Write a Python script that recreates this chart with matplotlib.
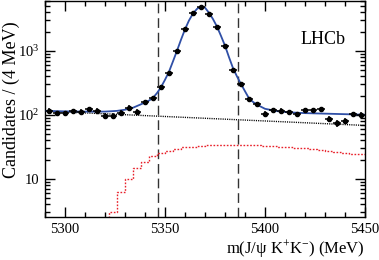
import numpy as np
import matplotlib
matplotlib.use('Agg')
import matplotlib.pyplot as plt
from matplotlib.ticker import FixedLocator, LogLocator, NullFormatter, MultipleLocator

plt.rcParams['font.family'] = ['Liberation Serif', 'DejaVu Serif']
plt.rcParams['mathtext.fontset'] = 'custom'
plt.rcParams['mathtext.rm'] = 'Liberation Serif'
plt.rcParams['mathtext.it'] = 'Liberation Serif:italic'

# Data points (4 MeV bins, centres)
bin_centres = [5292, 5296, 5300, 5304, 5308, 5312, 5316, 5320, 5324, 5328,
               5332, 5336, 5340, 5344, 5348, 5352, 5356, 5360, 5364, 5368,
               5372, 5376, 5380, 5384, 5388, 5392, 5396, 5400, 5404, 5408,
               5412, 5416, 5420, 5424, 5428, 5432, 5436, 5440, 5444, 5448]
counts = [117, 106, 106, 114, 113, 122, 117, 97, 97, 108,
          130, 113, 160, 184, 277, 458, 1010, 2230, 3880, 4820,
          3830, 2400, 1210, 505, 305, 178, 148, 104, 120, 116,
          110, 103, 120, 120, 123, 86, 74, 82, 103, 101]

# Total fit curve
fit_x = [5290, 5300, 5310, 5320, 5326, 5330, 5334, 5338, 5342, 5344,
         5346, 5348, 5350, 5352, 5354, 5356, 5358, 5360, 5362, 5364,
         5366, 5368, 5370, 5372, 5374, 5376, 5378, 5380, 5382, 5384,
         5386, 5388, 5390, 5392, 5394, 5396, 5400, 5406, 5412, 5420,
         5430, 5440, 5450]
fit_y = [116, 114, 113, 113, 116, 121, 130, 147, 168, 186,
         220, 272, 355, 475, 690, 1010, 1500, 2180, 3000, 3850,
         4550, 4950, 4750, 3950, 3150, 2400, 1720, 1210, 800, 540,
         400, 305, 235, 182, 160, 145, 125, 115, 110, 107,
         105, 103, 101]

# Combinatorial background (straight line in log scale)
bkg_x = [5290, 5450]
bkg_y = [115, 68.7]

# Peaking background histogram (red dotted), bin edges from 5318
red_edges = np.arange(5318, 5451, 4)
red_vals = [1.0, 3.1, 6.2, 10, 14.7, 18.6, 22.9, 25.8, 27.7, 29.1, 31.3,
            32, 33, 33.5, 34, 34, 34, 34, 33.5, 33.5, 33, 32.5, 32, 31.5,
            30.5, 30, 29, 28, 27.5, 26.5, 25.5, 25, 24.5]

# Signal window
window = [5346.6, 5386.6]

fig = plt.figure(figsize=(3.79, 2.60), dpi=100)
ax = fig.add_axes([45 / 379, 43 / 260, 320 / 379, 216 / 260])
ax.set_yscale('log')

# red histogram
ax.step(red_edges, red_vals + [red_vals[-1]], where='post', color='#e8202a',
        ls=(0, (1.2, 1.2)), lw=1.0, zorder=2)
# background
ax.plot(bkg_x, bkg_y, color='black', ls=(0, (0.8, 0.8)), lw=1.0, zorder=2)
# total fit
ax.plot(fit_x, fit_y, color='#2f4fa6', lw=1.3, zorder=3)
# data
counts = np.array(counts, dtype=float)
ax.errorbar(bin_centres, counts, xerr=2, yerr=np.sqrt(counts), fmt='o',
            color='black', ms=3.0, elinewidth=1.1, capsize=0, zorder=4)

for w in window:
    ax.axvline(w, color='#333333', lw=1.0, ls=(0, (7, 3.5)), zorder=1)

ax.set_xlim(5290, 5450)
ax.set_ylim(2.55, 6040)

ax.xaxis.set_major_locator(FixedLocator([5300, 5350, 5400, 5450]))
ax.xaxis.set_minor_locator(MultipleLocator(10))
ax.yaxis.set_major_locator(FixedLocator([10, 100, 1000]))
ax.yaxis.set_minor_locator(LogLocator(base=10, subs=np.arange(2, 10)))
ax.yaxis.set_minor_formatter(NullFormatter())
ax.set_yticklabels(['10', '10$^{2}$', '10$^{3}$'])
ax.set_xticklabels(['5300', '5350', '5400', '5450'])

ax.tick_params(which='both', direction='in', top=True, right=True,
               labelsize=10.5, width=1.0, pad=4)
ax.tick_params(which='major', length=7)
ax.tick_params(which='minor', length=3.5)
for s in ax.spines.values():
    s.set_linewidth(1.0)

ax.set_xlabel('m(J/\u03c8 K$^{+}$K$^{-}$) (MeV)', fontsize=12, loc='right',
              labelpad=2)
ax.set_ylabel('Candidates / (4 MeV)', fontsize=13)
ax.yaxis.set_label_coords(-0.078, 0.542)
ax.text(0.87, 0.82, 'LHCb', transform=ax.transAxes, fontsize=13,
        ha='center', va='center')

fig.savefig('out.png', dpi=100)
